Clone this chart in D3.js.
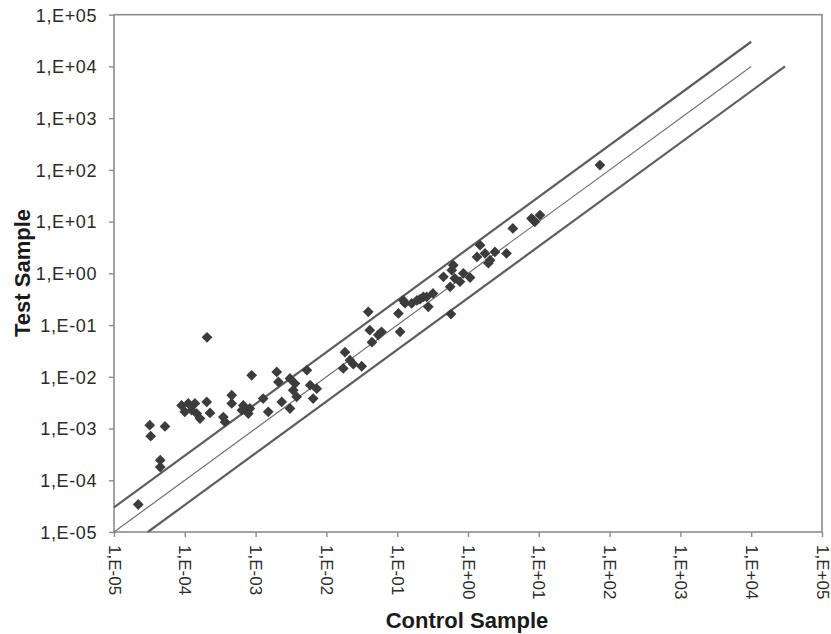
<!DOCTYPE html>
<html>
<head>
<meta charset="utf-8">
<script src="https://cdn.jsdelivr.net/npm/d3@7"></script>
<style>
  html, body { margin: 0; padding: 0; background: #fff; }
  svg { display: block; }
  text { font-family: "Liberation Sans", Arial, sans-serif; }
</style>
</head>
<body>
<svg id="chart" width="831" height="634"></svg>
<script>
// ---- data ----
const tickValues = [1e-5, 1e-4, 1e-3, 1e-2, 1e-1, 1e0, 1e1, 1e2, 1e3, 1e4, 1e5];
const tickLabels = ["1,E-05", "1,E-04", "1,E-03", "1,E-02", "1,E-01", "1,E+00",
                    "1,E+01", "1,E+02", "1,E+03", "1,E+04", "1,E+05"];
const xTitle = "Control Sample";
const yTitle = "Test Sample";

const controlValues = [
  2.2e-5, 3.2e-5, 3.3e-5, 5.25e-5, 4.5e-5, 4.5e-5,
  9.0e-5, 1.12e-4, 1.39e-4, 1.0e-4, 1.25e-4, 1.47e-4, 1.64e-4, 2.04e-4, 2.27e-4,
  3.5e-4, 3.7e-4, 4.6e-4, 4.6e-4, 2.06e-4,
  8.8e-4, 6.7e-4, 8.3e-4, 7.9e-4, 6.4e-4, 1.28e-3, 1.51e-3, 2.34e-3, 3.06e-3,
  1.99e-3, 2.1e-3, 3.06e-3, 3.6e-3, 3.4e-3, 3.8e-3, 5.3e-3, 5.9e-3, 7.3e-3, 6.5e-3,
  1.83e-2, 1.73e-2, 2.15e-2, 2.4e-2, 3.15e-2,
  3.9e-2, 4.1e-2, 4.4e-2, 5.4e-2, 6.0e-2,
  0.104, 0.11, 0.129, 0.16, 0.21, 0.26, 0.32, 0.275, 0.122, 0.19, 0.234,
  0.45, 0.59, 0.65, 0.56, 0.77, 1.07, 0.575, 0.62, 0.86,
  1.48, 1.34, 1.74, 2.05, 2.4, 3.5, 1.94,
  4.3, 8.4, 10.4, 8.8, 7.9,
  73
];
const testValues = [
  3.4e-5, 1.16e-3, 7.1e-4, 1.1e-3, 2.44e-4, 1.8e-4,
  2.8e-3, 3.05e-3, 3.05e-3, 2.1e-3, 2.26e-3, 1.95e-3, 1.56e-3, 3.27e-3, 2.0e-3,
  1.67e-3, 1.34e-3, 4.4e-3, 3.05e-3, 5.8e-2,
  1.07e-2, 2.8e-3, 2.44e-3, 1.95e-3, 2.26e-3, 3.8e-3, 2.1e-3, 3.27e-3, 2.44e-3,
  1.24e-2, 7.96e-3, 9.3e-3, 7.4e-3, 5.5e-3, 4.1e-3, 1.34e-2, 6.9e-3, 5.9e-3, 3.8e-3,
  3.0e-2, 1.45e-2, 2.1e-2, 1.75e-2, 1.6e-2,
  0.18, 7.96e-2, 4.67e-2, 6.4e-2, 7.4e-2,
  0.168, 7.4e-2, 0.265, 0.262, 0.317, 0.35, 0.41, 0.225, 0.30, 0.30, 0.35,
  0.855, 1.15, 0.80, 0.55, 0.69, 0.83, 0.163, 1.44, 1.0,
  3.5, 2.08, 2.43, 1.8, 2.6, 2.43, 1.57,
  7.4, 10.7, 13.4, 9.9, 11.5,
  124
];

// reference lines: y = factor * x, drawn between xFrom and xTo
const lineFactors = [3, 1, 1 / 3];
const lineFrom = [1e-5, 1e-5, 3e-5];
const lineTo = [1e4, 1e4, 3e4];

// ---- drawing ----
const svg = d3.select("#chart");
const plotLeft = 114, plotRight = 822, plotTop = 14.7, plotBottom = 532;

const x = d3.scaleLog().domain([1e-5, 1e5]).range([plotLeft, plotRight]);
const y = d3.scaleLog().domain([1e-5, 1e5]).range([plotBottom, plotTop]);

const labelOf = v => tickLabels[tickValues.indexOf(v)];

// frame
svg.append("rect")
  .attr("x", plotLeft).attr("y", plotTop)
  .attr("width", plotRight - plotLeft).attr("height", plotBottom - plotTop)
  .attr("fill", "#fff").attr("stroke", "#8c8c8c").attr("stroke-width", 1.6);

// y axis
const yAxis = svg.append("g")
  .attr("transform", `translate(${plotLeft},0)`)
  .call(d3.axisLeft(y).tickValues(tickValues).tickFormat(labelOf).tickSize(5).tickPadding(12));
yAxis.select(".domain").remove();
yAxis.selectAll(".tick line").attr("stroke", "#8c8c8c").attr("stroke-width", 1.4);
yAxis.selectAll(".tick text")
  .attr("fill", "#2a2a2a").style("font-size", "18px").style("letter-spacing", "0.6px")
  .attr("dy", "0.35em");

// x axis
const xAxis = svg.append("g")
  .attr("transform", `translate(0,${plotBottom})`)
  .call(d3.axisBottom(x).tickValues(tickValues).tickFormat(labelOf).tickSize(5));
xAxis.select(".domain").remove();
xAxis.selectAll(".tick line").attr("stroke", "#8c8c8c").attr("stroke-width", 1.4);
xAxis.selectAll(".tick text")
  .attr("fill", "#2a2a2a").style("font-size", "17px")
  .attr("text-anchor", "start")
  .attr("transform", "rotate(90)")
  .attr("x", 13).attr("y", 0).attr("dy", "0.35em");

// reference lines
const refData = lineFactors.map((f, i) => ({ f, a: lineFrom[i], b: lineTo[i], mid: f === 1 }));
svg.append("g").selectAll("line").data(refData).join("line")
  .attr("x1", d => x(d.a)).attr("y1", d => y(d.a * d.f))
  .attr("x2", d => x(d.b)).attr("y2", d => y(d.b * d.f))
  .attr("stroke", d => d.mid ? "#707070" : "#5e5e5e")
  .attr("stroke-width", d => d.mid ? 1.2 : 2.2);

// points
const pts = controlValues.map((c, i) => ({ c, t: testValues[i] }));
const diamond = d3.symbol().type(d3.symbolSquare).size(58);
svg.append("g").selectAll("path").data(pts).join("path")
  .attr("d", diamond)
  .attr("transform", d => `translate(${x(d.c)},${y(d.t)}) rotate(45)`)
  .attr("fill", "#3c3c3c");

// titles
svg.append("text")
  .attr("x", 467).attr("y", 628)
  .attr("text-anchor", "middle")
  .style("font-size", "22px").style("font-weight", "bold").attr("fill", "#1a1a1a")
  .text(xTitle);

svg.append("text")
  .attr("transform", "translate(30,273) rotate(-90)")
  .attr("text-anchor", "middle")
  .style("font-size", "22px").style("font-weight", "bold").attr("fill", "#1a1a1a")
  .text(yTitle);
</script>
</body>
</html>
